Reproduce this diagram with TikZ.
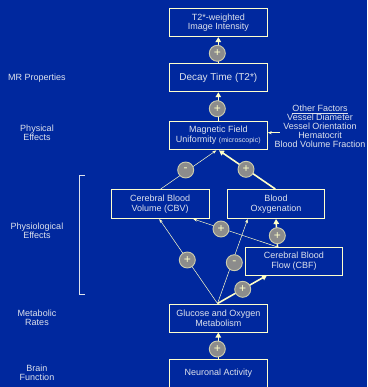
\documentclass[tikz,border=0pt]{standalone}
\usepackage{fontspec}
\setmainfont{Liberation Sans}
\usetikzlibrary{arrows.meta}
\definecolor{bgblue}{RGB}{0,40,158}
\definecolor{boxline}{RGB}{255,255,204}
\definecolor{txt}{RGB}{222,226,236}
\definecolor{arr}{RGB}{255,255,200}
\definecolor{circfill}{RGB}{140,140,140}
\definecolor{circline}{RGB}{205,205,175}
\begin{document}
\begin{tikzpicture}[x=1pt,y=-1pt,
  every node/.style={font=\fontsize{9}{9.5}\selectfont, text=txt},
  mainbox/.style={draw=boxline, line width=0.9pt, fill=bgblue, minimum width=98pt, minimum height=28pt, align=center, inner sep=1pt},
  lefttxt/.style={align=center},
  sign/.style={circle, draw=circline, line width=0.9pt, fill=circfill, minimum size=16pt, inner sep=0pt, text=arr, font=\fontsize{12}{12}\selectfont},
  thickarr/.style={draw=arr, line width=1.6pt, -{Triangle[length=5pt,width=5.5pt]}},
  thinarr/.style={draw=arr, line width=0.5pt, -{Stealth[length=4pt,width=3pt]}},
]
\fill[bgblue] (0,0) rectangle (367,387);
\useasboundingbox (0,0) rectangle (367,387);

% main boxes
\node[mainbox] (t2w) at (218.3,22.7) {T2*-weighted\\Image Intensity};
\node[mainbox, font=\fontsize{10}{11}\selectfont] (decay) at (218.3,77.8) {Decay Time (T2*)};
\node[mainbox] (mf) at (218.3,135) {Magnetic Field\\Uniformity {\fontsize{7}{8}\selectfont (microscopic)}};
\node[mainbox, minimum width=98.3pt, minimum height=29.4pt] (cbv) at (160.2,204) {Cerebral Blood\\Volume (CBV)};
\node[mainbox, minimum width=97.4pt, minimum height=29.4pt] (oxy) at (276,204) {Blood\\Oxygenation};
\node[mainbox, minimum width=97.4pt, minimum height=27.7pt] (cbf) at (294,261.2) {Cerebral Blood\\Flow (CBF)};
\node[mainbox, minimum height=27.7pt] (gluc) at (218.3,318.2) {Glucose and Oxygen\\Metabolism};
\node[mainbox, minimum height=27.7pt] (neur) at (218.3,373.2) {Neuronal Activity};

% left labels
\node[lefttxt] (lmr) at (37,77.8) {MR Properties};
\node[lefttxt] (lphys) at (37,133) {Physical\\Effects};
\node[lefttxt] (lphysio) at (37,231) {Physiological\\Effects};
\node[lefttxt] (lmet) at (37,318) {Metabolic\\Rates};
\node[lefttxt] (lbrain) at (37,373) {Brain\\Function};

% bracket
\draw[txt, line width=0.8pt] (84.7,175.3) -- (79.7,175.3) -- (79.7,294) -- (84.7,294);

% other factors
\node[align=center, font=\fontsize{9}{9}\selectfont] (other) at (320,126.5) {\underline{Other Factors}\\Vessel Diameter\\Vessel Orientation\\Hematocrit\\Blood Volume Fraction};
\coordinate (ofa) at (279.5,132.7);
\draw[thinarr] (ofa) -- (mf.east |- ofa);

% coordinates for connector ends
\coordinate (glt) at (217.5,303.5);
\coordinate (cbft) at (277.5,247);
\coordinate (mfb1) at (216.3,150.4);
\coordinate (mfb2) at (219,150.4);
\coordinate (cbvb1) at (159.3,219);
\coordinate (cbvb2) at (193.3,219);
\coordinate (oxyb) at (247.7,219);
\coordinate (oxyb2) at (276,219);
\coordinate (cbfb) at (267,275.3);
\coordinate (cbvt) at (160.7,189);
\coordinate (oxyt) at (275.3,189);

% thin connectors
\draw[thinarr] (glt) -- (cbvb1);
\draw[thinarr] (glt) -- (oxyb);
\draw[thinarr] (cbft) -- (cbvb2);
\draw[thinarr] (cbvt) -- (mfb1);
% thick connectors
\draw[thickarr] (neur.north) -- (gluc.south);
\draw[thickarr] (decay.north) -- (t2w.south);
\draw[thickarr] (mf.north) -- (decay.south);
\draw[thickarr] (oxyt) -- (mfb2);
\draw[thickarr] (glt) -- (cbfb);
\draw[thickarr] (cbft) -- (oxyb2);

% signs
\node[sign] (s1) at (217.3,53.3) {+};
\node[sign] (s2) at (217.3,108.7) {+};
\node[sign] (s3) at (185.7,170) {-};
\node[sign] (s4) at (246,169.3) {+};
\node[sign] (s5) at (221,229) {+};
\node[sign] (s6) at (277.3,235.7) {+};
\node[sign] (s7) at (187.3,260) {+};
\node[sign] (s8) at (234.3,262.7) {-};
\node[sign] (s9) at (242.7,289.3) {+};
\node[sign] (s10) at (217.3,349) {+};
\end{tikzpicture}
\end{document}
